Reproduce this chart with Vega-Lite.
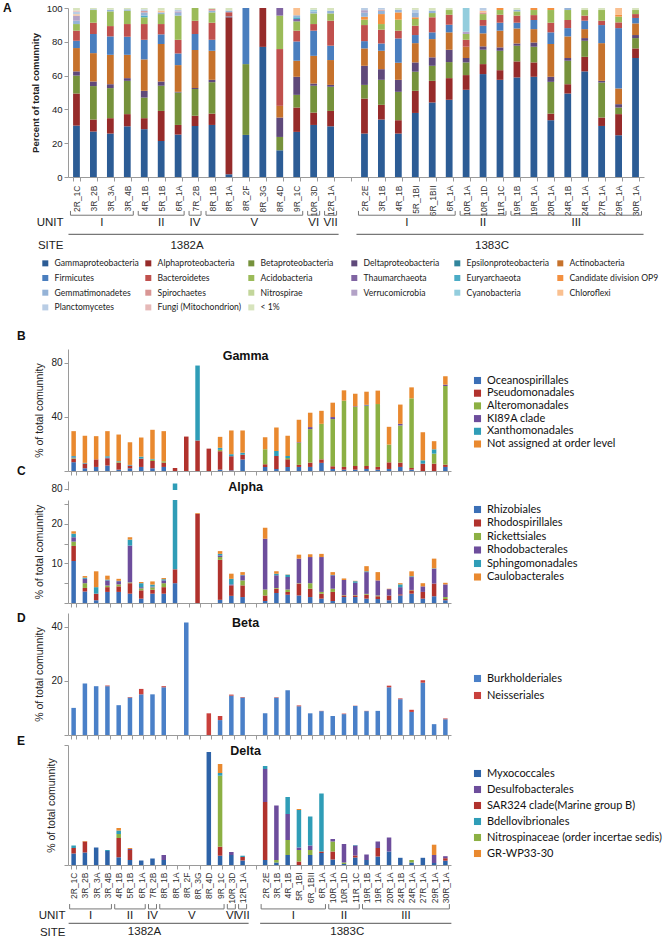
{
"$schema": "https://vega.github.io/schema/vega-lite/v6.json",
"padding": {"left": 3, "top": 2, "right": 0, "bottom": 0},
"datasets": {
"A": [
{"s":"a2R_1C","G":30.4,"Al":19,"Be":10.6,"De":2.5,"Ac":13.8,"Fi":4.3,"Ba":6,"Ad":3.9,"Ve":3,"Ge":2,"Ch":0.8,"Pl":1.5,"Fu":0.7,"L":1.5},
{"s":"a3R_2B","G":26.9,"Al":7.1,"Be":19.8,"De":2.7,"Ac":16.8,"Fi":11.3,"Ba":6.7,"Ad":7.5,"Ge":0.4,"L":0.8},
{"s":"a3R_3A","G":25.7,"Al":9.1,"Be":17.8,"De":2.3,"Ac":17.4,"Fi":10.9,"Ba":6.1,"Ad":8.7,"Ge":1,"L":1},
{"s":"a3R_4B","G":30,"Al":7.2,"Be":19.7,"De":1.6,"Ac":13.8,"Fi":10.7,"Ba":7.5,"Ad":7.9,"Ge":0.8,"L":0.8},
{"s":"a4R_1B","G":28.3,"Al":6.5,"Be":12.2,"De":4,"Ac":18.6,"Fi":11.6,"Ba":9.3,"Ad":4,"Eu":1,"Ge":1.9,"Sp":0.8,"Pl":1,"L":0.8},
{"s":"a5R_1B","G":21.3,"Al":17.8,"Be":14.9,"De":2.5,"Ac":22.2,"Fi":5.7,"Ba":6.1,"Ad":5.9,"Ge":1,"Ch":1,"L":1.6},
{"s":"a6R_1A","G":25.1,"Al":5.7,"Be":19.2,"De":0.4,"Ac":15.8,"Fi":6.9,"Ba":8.1,"Ad":14.3,"Ge":1.6,"Ve":0.9,"Pl":1,"L":1},
{"s":"a7R_2B","G":30.2,"Al":6,"Be":15.8,"De":0.6,"Ac":22.5,"Fi":9.5,"Ba":7.9,"Ad":7.5},
{"s":"a8R_1B","G":30.8,"Al":6.7,"Be":18.6,"De":1.4,"Ac":17.2,"Fi":6.5,"Ba":10.1,"Ad":6.1,"Ge":1,"Sp":1,"L":0.6},
{"s":"a8R_1A","G":1.6,"Al":92.9,"Fi":0.5,"Ba":2.5,"Ge":1,"L":1.5},
{"s":"a8R_2F","G":24.9,"Be":41.9,"Fi":33.2},
{"s":"a8R_3G","G":77,"Al":23},
{"s":"a8R_4D","G":15.8,"Be":7.9,"De":11.5,"Ac":6.9,"Ba":33.6,"Ad":19.8,"Th":4.5},
{"s":"a9R_1C","G":26.7,"Al":14.4,"Be":7.5,"De":10.7,"Ac":9.5,"Fi":11.4,"Ba":6.4,"Ad":5.5,"Th":1.4,"Eu":1,"Ge":1.2,"Ch":4.3},
{"s":"a10R_3D","G":30.8,"Al":7.3,"Be":15.9,"De":1.3,"Ac":16.4,"Fi":14.9,"Ba":3.9,"Ad":6.3,"Ge":1.2,"Cy":1,"L":1},
{"s":"a12R_1A","G":30,"Al":9.1,"Be":14.3,"De":1.1,"Ac":14.7,"Fi":8.5,"Ba":14.8,"Ad":4.3,"Ge":1.6,"L":1.6},
{"s":"c2R_2E","G":25.7,"Al":20.7,"Be":8.1,"De":11.3,"Ac":10.3,"Fi":4.3,"Ba":9.5,"Ad":3.2,"OP":1.7,"Ge":2.4,"Ve":1.5,"Pl":1.3},
{"s":"c3R_1B","G":34,"Al":8.7,"Be":14.8,"De":6.3,"Ac":10.9,"Fi":4.3,"Ba":8.2,"Ad":3.3,"OP":5.9,"Ge":2,"Sp":0.6,"Pl":1},
{"s":"c4R_1B","G":25.7,"Al":7.9,"Be":16.8,"De":7.1,"Ac":10.1,"Fi":14.4,"Ba":4.6,"Ad":6.5,"OP":4.3,"Ge":1.6,"L":1},
{"s":"c5R_1BI","G":37.9,"Al":13.1,"Be":11.3,"De":5.5,"Ac":11.4,"Fi":4.8,"Ba":5.5,"Ad":4,"OP":1,"Ge":2.9,"Pl":1.5,"L":1.1},
{"s":"c6R_1BII","G":44.1,"Al":12.8,"Be":8.9,"De":5,"Ac":10.8,"Fi":4,"Ba":8.9,"Ad":2.5,"Ge":1.5,"L":1.5},
{"s":"c6R_1A","G":45.7,"Al":12.8,"Be":9.5,"De":7.3,"Ac":10.3,"Fi":4.5,"Ba":5.9,"Ad":2.8,"L":1.2},
{"s":"c10R_1A","G":51.6,"Al":8.7,"Be":7.5,"De":2.6,"Ac":6.7,"Ba":4.1,"Ad":3.4,"Ve":1.4,"Cy":14},
{"s":"c10R_1D","G":60.9,"Al":5.9,"Be":8.5,"De":2,"Ac":7.7,"Fi":4.5,"Ba":3.4,"Ad":3.5,"Sp":1,"Ch":1,"Pl":1.6},
{"s":"c11R_1C","G":57.5,"Al":5.7,"Be":11.5,"De":2,"Ac":9.9,"Fi":4.7,"Ba":4.7,"Ad":2.8,"OP":1.2},
{"s":"c19R_1B","G":58.9,"Al":9.5,"Be":9.3,"De":1.3,"Ac":8.9,"Fi":3.4,"Ba":4.2,"Ad":2.5,"Ge":1,"L":1},
{"s":"c19R_1A","G":59.3,"Al":8.5,"Be":9.3,"De":2.5,"Ac":7.9,"Fi":5.4,"Ba":2.9,"Ad":3,"OP":1.2},
{"s":"c20R_1A","G":33.6,"Al":3.9,"Be":18.8,"De":3,"Ac":19.4,"Fi":6.9,"Ba":5.7,"Ad":7.5,"OP":1.2},
{"s":"c24R_1B","G":49.4,"Al":5.5,"Be":13.9,"De":1.6,"Ac":12.8,"Fi":4.9,"Ba":4.8,"Ad":5.9,"Ge":1.2},
{"s":"c24R_1A","G":62.5,"Al":8.6,"Be":9.5,"De":1.6,"Ac":5.3,"Fi":5,"Ba":3,"Ad":3.3,"L":1.2},
{"s":"c27R_1A","G":30.2,"Al":5,"Be":20.7,"De":1,"Ac":22.3,"Fi":10.7,"Ba":2.6,"Ad":6.3,"L":1.2},
{"s":"c29R_1A","G":24.7,"Al":12.5,"Be":3.9,"De":2,"Ac":9.3,"Fi":35.7,"Ba":3.4,"Ad":3.4,"OP":1,"Ch":4.1},
{"s":"c30R_1A","G":70.4,"Al":5.7,"Be":6.1,"De":1.8,"Ac":6.9,"Fi":3.2,"Ba":2.3,"Ad":2.4,"L":1.2}
],
"taxaA": [
{"k":"G","t":"Gammaproteobacteria","o":1},{"k":"Al","t":"Alphaproteobacteria","o":2},{"k":"Be","t":"Betaproteobacteria","o":3},{"k":"De","t":"Deltaproteobacteria","o":4},{"k":"Ep","t":"Epsilonproteobacteria","o":5},{"k":"Ac","t":"Actinobacteria","o":6},{"k":"Fi","t":"Firmicutes","o":7},{"k":"Ba","t":"Bacteroidetes","o":8},{"k":"Ad","t":"Acidobacteria","o":9},{"k":"Th","t":"Thaumarchaeota","o":10},{"k":"Eu","t":"Euryarchaeota","o":11},{"k":"OP","t":"Candidate division OP9","o":12},{"k":"Ge","t":"Gemmatimonadetes","o":13},{"k":"Sp","t":"Spirochaetes","o":14},{"k":"Ni","t":"Nitrospirae","o":15},{"k":"Ve","t":"Verrucomicrobia","o":16},{"k":"Cy","t":"Cyanobacteria","o":17},{"k":"Ch","t":"Chloroflexi","o":18},{"k":"Pl","t":"Planctomycetes","o":19},{"k":"Fu","t":"Fungi (Mitochondrion)","o":20},{"k":"L","t":"< 1%","o":21}
],
"B": [
{"s":"a2R_1C","O":6.5,"P":2.5,"A":0.5,"K":0.5,"X":1,"N":18.4},
{"s":"a3R_2B","O":2,"P":3.5,"X":0.5,"N":20},
{"s":"a3R_3A","O":3,"P":5.6,"N":17.1},
{"s":"a3R_4B","O":4,"P":5.4,"K":0.5,"X":1,"N":18.5},
{"s":"a4R_1B","O":1,"P":5.2,"A":0.5,"X":0.5,"N":19.7},
{"s":"a5R_1B","O":2,"P":2,"X":0.5,"N":16.7},
{"s":"a6R_1A","O":3,"P":6.1,"X":1.5,"N":14.1},
{"s":"a7R_2B","O":2,"P":5.4,"A":1,"X":0.5,"N":21.5},
{"s":"a8R_1B","O":3,"P":3.2,"A":1,"N":22.2},
{"s":"a8R_1A","P":2.2},
{"s":"a8R_2F","P":25.4},
{"s":"a8R_3G","P":22.5,"X":55.3},
{"s":"a8R_4D","P":16.5},
{"s":"a9R_1C","O":1,"P":13.6,"A":1,"X":1.5,"N":8.1},
{"s":"a10R_3D","O":0.5,"P":10.4,"X":1.5,"N":17.5},
{"s":"a12R_1A","O":8.5,"P":3.5,"X":1.5,"N":16.4},
{"s":"c2R_2E","O":3,"P":2,"A":11,"N":8.9},
{"s":"c3R_1B","O":1.5,"P":9.5,"X":3.8,"N":17.2},
{"s":"c4R_1B","O":3,"P":5.6,"A":1,"X":1.5,"N":14.9},
{"s":"c5R_1BI","O":3,"P":1.5,"A":16.2,"K":0.5,"N":16.6},
{"s":"c6R_1BII","O":3,"P":3.2,"A":24.7,"K":1.5,"N":10.6},
{"s":"c6R_1A","O":6,"P":2.6,"A":26.2,"N":9.6},
{"s":"c10R_1A","O":1.5,"P":2,"A":34.8,"K":1.5,"N":10.6},
{"s":"c10R_1D","O":1,"P":2,"A":48.9,"N":7.6},
{"s":"c11R_1C","O":1,"P":2.7,"A":43.5,"K":0.5,"N":9.3},
{"s":"c19R_1B","O":1.5,"P":2.2,"A":44.3,"K":0.5,"X":0.3,"N":9.7},
{"s":"c19R_1A","O":1,"P":2,"A":46.4,"N":9.9},
{"s":"c20R_1A","O":1.5,"P":4.9,"A":13.1,"N":13.1},
{"s":"c24R_1B","O":3,"P":3.2,"A":27.4,"K":1.2,"N":14.2},
{"s":"c24R_1A","O":1,"P":1.2,"A":51.4,"N":8.1},
{"s":"c27R_1A","P":5.4,"X":2.5,"N":20.7},
{"s":"c29R_1A","P":5.4,"A":7.4,"X":3.2,"N":6},
{"s":"c30R_1A","O":3,"P":1.7,"A":58,"K":1,"N":6.2}
],
"taxaB": [
{"k":"O","t":"Oceanospirillales","o":1},{"k":"P","t":"Pseudomonadales","o":2},{"k":"A","t":"Alteromonadales","o":3},{"k":"K","t":"KI89A clade","o":4},{"k":"X","t":"Xanthomonadales","o":5},{"k":"N","t":"Not assigned at order level","o":6}
],
"C": [
{"s":"a2R_1C","R":10.6,"S":3.8,"K":1.1,"B":1.1,"P":0.9,"C":0.6},
{"s":"a3R_2B","R":2.9,"S":0.9,"K":1.2,"B":1.1,"P":0.3,"C":0.4},
{"s":"a3R_3A","R":0.7,"S":1.65,"P":1.65,"C":4},
{"s":"a3R_4B","R":2.8,"S":1.2,"K":0.4,"B":1.3,"P":0.2,"C":1},
{"s":"a4R_1B","R":2.8,"S":1.4,"K":0.5,"B":0.8,"P":0.1,"C":0.5},
{"s":"a5R_1B","R":2.35,"S":2.65,"K":0.2,"B":9.3,"P":1.5,"C":0.6},
{"s":"a6R_1A","R":1.1,"S":2.1,"K":0.5,"B":0.3,"P":1,"C":0.3},
{"s":"a7R_2B","R":2.35,"S":1,"K":0.6,"B":0.2,"P":0.5,"C":0.8},
{"s":"a8R_1B","R":2.35,"S":1.65,"K":1,"B":0.7,"P":0.3,"C":0.3},
{"s":"a8R_1A","R":5,"S":3.5,"P":73.5},
{"s":"a8R_3G","S":22.5,"C":0.2},
{"s":"a9R_1C","R":0.8,"S":10.1,"K":0.7,"B":0.4,"P":0.4,"C":0.7},
{"s":"a10R_3D","R":1.8,"S":2.65,"B":0.25,"P":1.4,"C":1.3},
{"s":"a12R_1A","R":1.5,"S":2.95,"K":1.25,"B":1.3,"P":0.1,"C":0.7},
{"s":"c2R_2E","R":0.5,"S":1.4,"K":1.5,"B":12.8,"C":2.8},
{"s":"c3R_1B","R":2.5,"S":1.1,"K":0.2,"B":3.2,"P":0.4,"C":0.6},
{"s":"c4R_1B","R":2.1,"S":0.7,"K":0.6,"B":3.15,"P":0.55,"C":0.1},
{"s":"c5R_1BI","R":1.9,"S":3,"K":0.1,"B":6.2,"C":1},
{"s":"c6R_1BII","R":1.5,"S":2.1,"K":1.4,"B":6.6,"C":0.7},
{"s":"c6R_1A","R":1.1,"S":1.25,"K":0.45,"B":8.8,"C":0.8},
{"s":"c10R_1A","R":0.5,"S":2.3,"K":0.8,"B":3.4,"P":0.1,"C":0.7},
{"s":"c10R_1D","R":1.5,"S":0.4,"K":0.1,"B":3.8,"C":0.4},
{"s":"c11R_1C","R":1.5,"S":0.4,"K":0.1,"B":3.1,"P":0.4,"C":0.1},
{"s":"c19R_1B","R":1.1,"S":1,"K":0.2,"B":5.5,"P":0.2,"C":1.3},
{"s":"c19R_1A","R":1,"S":0.7,"K":0.2,"B":3.8,"C":2.1},
{"s":"c20R_1A","R":0.7,"S":1.2,"B":1.6,"C":0.1},
{"s":"c24R_1B","R":1.9,"S":0.3,"B":1.8,"P":0.7,"C":0.3},
{"s":"c24R_1A","R":2.35,"S":0.85,"K":0.1,"B":3.25,"P":0.2,"C":1.25},
{"s":"c27R_1A","R":1.1,"S":1.7,"B":1.4,"C":0.8},
{"s":"c29R_1A","R":1.7,"S":3.2,"B":3.75,"P":0.1,"C":2.45},
{"s":"c30R_1A","R":0.7,"S":0.3,"K":0.5,"B":3.2,"C":0.4}
],
"taxaC": [
{"k":"R","t":"Rhizobiales","o":1},{"k":"S","t":"Rhodospirillales","o":2},{"k":"K","t":"Rickettsiales","o":3},{"k":"B","t":"Rhodobacterales","o":4},{"k":"P","t":"Sphingomonadales","o":5},{"k":"C","t":"Caulobacterales","o":6}
],
"D": [
{"s":"a2R_1C","B":10},{"s":"a3R_2B","B":19},{"s":"a3R_3A","B":18},{"s":"a3R_4B","B":18,"N":0.25},{"s":"a4R_1B","B":11},{"s":"a5R_1B","B":13.8,"N":0.2},{"s":"a6R_1A","B":15,"N":2},{"s":"a7R_2B","B":15},{"s":"a8R_1B","B":17.6,"N":0.4},{"s":"a8R_2F","B":41.5},{"s":"a8R_4D","N":8},{"s":"a9R_1C","B":5.5,"N":1.5},{"s":"a10R_3D","B":14.5,"N":0.4},{"s":"a12R_1A","B":13.8,"N":0.2},
{"s":"c2R_2E","B":8},{"s":"c3R_1B","B":13.7,"N":0.2},{"s":"c4R_1B","B":16.5},{"s":"c5R_1BI","B":10.6,"N":0.3},{"s":"c6R_1BII","B":8},{"s":"c6R_1A","B":8.8,"N":0.1},{"s":"c10R_1A","B":7},{"s":"c10R_1D","B":7.7,"N":0.2},{"s":"c11R_1C","B":10.7,"N":0.1},{"s":"c19R_1B","B":8.8,"N":0.1},{"s":"c19R_1A","B":8.9},{"s":"c20R_1A","B":17.6,"N":0.6},{"s":"c24R_1B","B":13.2,"N":0.3},{"s":"c24R_1A","B":8.5,"N":0.8},{"s":"c27R_1A","B":19.3,"N":0.9},{"s":"c29R_1A","B":4},{"s":"c30R_1A","B":5.8,"N":0.3}
],
"taxaD": [{"k":"B","t":"Burkholderiales","o":1},{"k":"N","t":"Neisseriales","o":2}],
"E": [
{"s":"a2R_1C","M":1.15,"S":0.55,"B":0.25},
{"s":"a3R_2B","M":1.25,"S":1.1,"G":0.05},
{"s":"a3R_3A","M":1.75},
{"s":"a3R_4B","M":1.4,"B":0.1},
{"s":"a4R_1B","M":0.77,"S":1.93,"N":0.4,"B":0.35,"G":0.25},
{"s":"a5R_1B","M":0.5,"S":1,"D":0.1,"G":0.1},
{"s":"a6R_1A","M":0.45},
{"s":"a7R_2B","M":0.65},
{"s":"a8R_1B","M":0.5,"D":0.5},
{"s":"a8R_4D","M":11.3},
{"s":"a9R_1C","M":0.93,"S":0.9,"N":7.1,"B":0.27,"G":0.9},
{"s":"a10R_3D","M":1,"D":0.3},
{"s":"a12R_1A","M":0.45,"S":0.35,"B":0.13},
{"s":"c2R_2E","M":0.5,"S":5.8,"D":3.3,"B":0.3},
{"s":"c3R_1B","M":0.25,"N":0.25,"D":5.45},
{"s":"c4R_1B","M":1,"N":1.5,"D":2.6,"B":1.7},
{"s":"c5R_1BI","S":0.35,"N":1.15,"D":0.25,"B":3.75,"G":0.1},
{"s":"c6R_1BII","M":1,"N":0.5,"D":0.45,"B":2.9},
{"s":"c6R_1A","M":1.2,"S":0.15,"B":5.8},
{"s":"c10R_1A","M":0.55,"S":0.8,"N":1,"D":0.25},
{"s":"c10R_1D","M":0.1,"N":0.15,"D":1.85},
{"s":"c11R_1C","M":0.75,"S":0.2,"D":1,"B":0.05},
{"s":"c19R_1B","M":0.5,"D":0.55},
{"s":"c19R_1A","M":0.85,"S":0.85,"D":0.65},
{"s":"c20R_1A","M":1.35,"D":1.4},
{"s":"c24R_1B","M":0.72},
{"s":"c24R_1A","M":0.25,"N":0.25},
{"s":"c27R_1A","M":0.72},
{"s":"c29R_1A","M":0.2,"D":0.8,"G":1.03},
{"s":"c30R_1A","M":0.43,"S":0.25,"D":0.2}
],
"taxaE": [
{"k":"M","t":"Myxococcales","o":1},{"k":"S","t":"SAR324 clade(Marine group B)","o":2},{"k":"N","t":"Nitrospinaceae (order incertae sedis)","o":3},{"k":"D","t":"Desulfobacterales","o":4},{"k":"B","t":"Bdellovibrionales","o":5},{"k":"G","t":"GR-WP33-30","o":6}
],
"units": [
{"a":"a2R_1C","b":"a3R_4B","m":"a3R_3A","u":"I","e":1},
{"a":"a4R_1B","b":"a6R_1A","m":"a5R_1B","u":"II","e":0},
{"a":"a7R_2B","b":"a7R_2B","m":"a7R_2B","u":"IV","e":0},
{"a":"a8R_1B","b":"a9R_1C","m":"a8R_3G","u":"V","e":1},
{"a":"a10R_3D","b":"a10R_3D","m":"a10R_3D","u":"VI","e":0},
{"a":"a12R_1A","b":"a12R_1A","m":"a12R_1A","u":"VII","e":0},
{"a":"c2R_2E","b":"c6R_1A","m":"c5R_1BI","u":"I","e":1},
{"a":"c10R_1A","b":"c11R_1C","m":"c10R_1D","u":"II","e":0},
{"a":"c19R_1B","b":"c30R_1A","m":"c24R_1A","u":"III","e":1}
],
"sites": [
{"a":"a2R_1C","b":"a12R_1A","m":"a7R_2B","u":"1382A"},
{"a":"c2R_2E","b":"c30R_1A","m":"c11R_1C","u":"1383C"}
]
},
"vconcat": [
{
"vconcat": [
{
"width": 576, "height": 169,
"title": {"text": "A", "anchor": "start", "frame": "group", "dx": -65, "offset": -12, "fontSize": 12, "fontWeight": "bold"},
"data": {"name": "A"},
"transform": [
{"fold": ["G","Al","Be","De","Ep","Ac","Fi","Ba","Ad","Th","Eu","OP","Ge","Sp","Ni","Ve","Cy","Ch","Pl","Fu","L"], "as": ["k","v"]},
{"filter": "isValid(datum.v)"},
{"lookup": "k", "from": {"data": {"name": "taxaA"}, "key": "k", "fields": ["t","o"]}}
],
"mark": {"type": "bar"},
"encoding": {
"x": {"field": "s", "type": "nominal", "scale": {"domain": ["a2R_1C","a3R_2B","a3R_3A","a3R_4B","a4R_1B","a5R_1B","a6R_1A","a7R_2B","a8R_1B","a8R_1A","a8R_2F","a8R_3G","a8R_4D","a9R_1C","a10R_3D","a12R_1A","g","c2R_2E","c3R_1B","c4R_1B","c5R_1BI","c6R_1BII","c6R_1A","c10R_1A","c10R_1D","c11R_1C","c19R_1B","c19R_1A","c20R_1A","c24R_1B","c24R_1A","c27R_1A","c29R_1A","c30R_1A"], "paddingInner": 0.6, "paddingOuter": 0.3},
 "axis": {"title": null, "labelAngle": -90, "labelExpr": "slice(datum.label, 1)", "labelFontSize": 8.5, "labelOverlap": false, "tickBand": "extent", "tickSize": 4, "labelPadding": 4, "labelColor": "#333"}},
"y": {"field": "v", "type": "quantitative", "stack": "zero", "scale": {"domain": [0, 100]},
 "axis": {"title": "Percent of total comunnity", "titleFontWeight": "bold", "titleFontSize": 9.5, "values": [0,20,40,60,80,100], "labelFontSize": 9.5, "tickSize": 4, "titlePadding": 6}},
"color": {"field": "t", "type": "nominal",
 "scale": {"domain": ["Gammaproteobacteria","Alphaproteobacteria","Betaproteobacteria","Deltaproteobacteria","Epsilonproteobacteria","Actinobacteria","Firmicutes","Bacteroidetes","Acidobacteria","Thaumarchaeota","Euryarchaeota","Candidate division OP9","Gemmatimonadetes","Spirochaetes","Nitrospirae","Verrucomicrobia","Cyanobacteria","Chloroflexi","Planctomycetes","Fungi (Mitochondrion)","< 1%"],
  "range": ["#2C5C95","#962B2A","#76923C","#5F497A","#31859C","#C6722C","#4A7EBE","#C0504D","#9BBB59","#8064A2","#4BACC6","#F39040","#95B3D7","#D99694","#C3D69B","#B3A2C7","#93CDDD","#FAC090","#B9CDE5","#E6B9B8","#D7E4BD"]},
 "legend": {"orient": "none", "legendX": -27, "legendY": 251, "columns": 6, "direction": "horizontal", "gridAlign": "all", "title": null, "symbolType": "square", "symbolSize": 36, "symbolStrokeWidth": 0, "labelFont": "Lato", "labelFontSize": 8.6, "labelOffset": 5, "rowPadding": 5.7, "columnPadding": 0, "labelColor": "#222", "labelLimit": 200}},
"order": {"field": "o", "type": "quantitative"}
}
},
{
"width": 576, "height": 43,
"layer": [
{"data": {"name": "units"}, "mark": {"type": "rule", "xOffset": -6, "x2Offset": 6, "color": "#777"},
 "encoding": {"x": {"field": "a", "type": "nominal", "scale": {"domain": ["a2R_1C","a3R_2B","a3R_3A","a3R_4B","a4R_1B","a5R_1B","a6R_1A","a7R_2B","a8R_1B","a8R_1A","a8R_2F","a8R_3G","a8R_4D","a9R_1C","a10R_3D","a12R_1A","g","c2R_2E","c3R_1B","c4R_1B","c5R_1BI","c6R_1BII","c6R_1A","c10R_1A","c10R_1D","c11R_1C","c19R_1B","c19R_1A","c20R_1A","c24R_1B","c24R_1A","c27R_1A","c29R_1A","c30R_1A"], "paddingInner": 0.6, "paddingOuter": 0.3}, "axis": null},
  "x2": {"field": "b"},
  "y": {"datum": 6, "type": "quantitative", "scale": {"domain": [0, 43], "reverse": true}, "axis": {"values": [14, 38], "labelExpr": "datum.value < 20 ? 'UNIT' : 'SITE'", "domain": false, "ticks": false, "title": null, "labelFontSize": 11.5, "labelPadding": 5, "labelColor": "#222"}}}},
{"data": {"name": "units"}, "mark": {"type": "rule", "xOffset": -6, "color": "#777"},
 "encoding": {"x": {"field": "a", "type": "nominal"}, "y": {"datum": 1.5, "type": "quantitative"}, "y2": {"datum": 6}}},
{"data": {"name": "units"}, "mark": {"type": "rule", "xOffset": 6, "color": "#777"},
 "encoding": {"x": {"field": "b", "type": "nominal"}, "y": {"datum": 1.5, "type": "quantitative"}, "y2": {"datum": 6}}},
{"data": {"name": "units"}, "transform": [{"filter": "datum.e == 0"}], "mark": {"type": "text", "fontSize": 11.5, "color": "#222"},
 "encoding": {"x": {"field": "m", "type": "nominal"}, "y": {"datum": 14, "type": "quantitative"}, "text": {"field": "u"}}},
{"data": {"name": "units"}, "transform": [{"filter": "datum.e == 1"}], "mark": {"type": "text", "fontSize": 11.5, "color": "#222", "xOffset": -8.47},
 "encoding": {"x": {"field": "m", "type": "nominal"}, "y": {"datum": 14, "type": "quantitative"}, "text": {"field": "u"}}},
{"data": {"name": "sites"}, "mark": {"type": "rule", "xOffset": -8, "x2Offset": 8, "color": "#777", "strokeWidth": 1.2},
 "encoding": {"x": {"field": "a", "type": "nominal"}, "x2": {"field": "b"}, "y": {"datum": 26, "type": "quantitative"}}},
{"data": {"name": "sites"}, "mark": {"type": "text", "fontSize": 11.5, "color": "#222", "xOffset": -8},
 "encoding": {"x": {"field": "m", "type": "nominal"}, "y": {"datum": 38, "type": "quantitative"}, "text": {"field": "u"}}}
]
}
],
"spacing": 32.5, "bounds": "flush", "resolve": {"scale": {"color": "independent"}}
},
{
"vconcat": [
{
"width": 383, "height": 122,
"title": {"text": "B", "anchor": "start", "frame": "group", "dx": -51, "offset": 6, "fontSize": 12, "fontWeight": "bold"},
"layer": [
{"data": {"name": "B"},
"transform": [{"fold": ["O","P","A","K","X","N"], "as": ["k","v"]}, {"filter": "isValid(datum.v)"}, {"lookup": "k", "from": {"data": {"name": "taxaB"}, "key": "k", "fields": ["t","o"]}}],
"mark": {"type": "bar"},
"encoding": {
"x": {"field": "s", "type": "nominal", "scale": {"domain": ["a2R_1C","a3R_2B","a3R_3A","a3R_4B","a4R_1B","a5R_1B","a6R_1A","a7R_2B","a8R_1B","a8R_1A","a8R_2F","a8R_3G","a8R_4D","a9R_1C","a10R_3D","a12R_1A","g","c2R_2E","c3R_1B","c4R_1B","c5R_1BI","c6R_1BII","c6R_1A","c10R_1A","c10R_1D","c11R_1C","c19R_1B","c19R_1A","c20R_1A","c24R_1B","c24R_1A","c27R_1A","c29R_1A","c30R_1A"], "paddingInner": 0.6, "paddingOuter": 0.3},
 "axis": {"title": null, "labels": false, "tickBand": "extent", "tickSize": 4}},
"y": {"field": "v", "type": "quantitative", "stack": "zero", "scale": {"domain": [0, 90]},
 "axis": {"title": "% of total comunnity", "titleFontWeight": "normal", "titleFontSize": 10.5, "values": [0,10,20,30,40,50,60,70,80], "labelExpr": "datum.value > 0 && datum.value % 20 == 0 ? datum.label : ''", "labelFontSize": 10, "tickSize": 4, "titlePadding": 6}},
"color": {"field": "t", "type": "nominal",
 "scale": {"domain": ["Oceanospirillales","Pseudomonadales","Alteromonadales","KI89A clade","Xanthomonadales","Not assigned at order level"], "range": ["#3B6FB6","#B1322D","#8CB043","#6D4D9C","#2F9DB7","#E9892F"]},
 "legend": {"orient": "none", "legendX": 404, "legendY": 26, "title": null, "symbolType": "square", "symbolSize": 50, "symbolStrokeWidth": 0, "labelFont": "Lato", "labelFontSize": 11, "labelOffset": 4, "rowPadding": 0.7, "labelColor": "#111", "labelLimit": 300}},
"order": {"field": "o", "type": "quantitative"}
}},
{"data": {"values": [{"label": "Gamma"}]}, "mark": {"type": "text", "fontSize": 12.5, "fontWeight": "bold", "dx": 3, "color": "#111"},
 "encoding": {"x": {"datum": "a12R_1A"}, "y": {"datum": 85}, "text": {"field": "label"}}}
]
},
{
"width": 383, "height": 9,
"title": {"text": "C", "anchor": "start", "frame": "group", "dx": -51, "offset": 3, "fontSize": 12, "fontWeight": "bold"},
"layer": [
{"data": {"name": "C"},
"transform": [{"fold": ["R","S","K","B","P","C"], "as": ["k","v"]}, {"filter": "isValid(datum.v)"}, {"lookup": "k", "from": {"data": {"name": "taxaC"}, "key": "k", "fields": ["t","o"]}}],
"mark": {"type": "bar", "clip": true},
"encoding": {
"x": {"field": "s", "type": "nominal", "scale": {"domain": ["a2R_1C","a3R_2B","a3R_3A","a3R_4B","a4R_1B","a5R_1B","a6R_1A","a7R_2B","a8R_1B","a8R_1A","a8R_2F","a8R_3G","a8R_4D","a9R_1C","a10R_3D","a12R_1A","g","c2R_2E","c3R_1B","c4R_1B","c5R_1BI","c6R_1BII","c6R_1A","c10R_1A","c10R_1D","c11R_1C","c19R_1B","c19R_1A","c20R_1A","c24R_1B","c24R_1A","c27R_1A","c29R_1A","c30R_1A"], "paddingInner": 0.6, "paddingOuter": 0.3}, "axis": null},
"y": {"field": "v", "type": "quantitative", "stack": "zero", "scale": {"domain": [79.5, 83]},
 "axis": {"title": null, "values": [80], "labelFontSize": 10, "tickSize": 4}},
"color": {"field": "t", "type": "nominal",
 "scale": {"domain": ["Rhizobiales","Rhodospirillales","Rickettsiales","Rhodobacterales","Sphingomonadales","Caulobacterales"], "range": ["#3B6FB6","#B1322D","#8CB043","#6D4D9C","#2F9DB7","#E9892F"]},
 "legend": null},
"order": {"field": "o", "type": "quantitative"}
}},
{"data": {"values": [{"label": "Alpha"}]}, "mark": {"type": "text", "fontSize": 12.5, "fontWeight": "bold", "dx": 3, "color": "#111"},
 "encoding": {"x": {"datum": "a12R_1A"}, "y": {"datum": 80.6}, "text": {"field": "label"}}}
]
},
{
"width": 383, "height": 103,
"data": {"name": "C"},
"transform": [{"fold": ["R","S","K","B","P","C"], "as": ["k","v"]}, {"filter": "isValid(datum.v)"}, {"lookup": "k", "from": {"data": {"name": "taxaC"}, "key": "k", "fields": ["t","o"]}}],
"mark": {"type": "bar", "clip": true},
"encoding": {
"x": {"field": "s", "type": "nominal", "scale": {"domain": ["a2R_1C","a3R_2B","a3R_3A","a3R_4B","a4R_1B","a5R_1B","a6R_1A","a7R_2B","a8R_1B","a8R_1A","a8R_2F","a8R_3G","a8R_4D","a9R_1C","a10R_3D","a12R_1A","g","c2R_2E","c3R_1B","c4R_1B","c5R_1BI","c6R_1BII","c6R_1A","c10R_1A","c10R_1D","c11R_1C","c19R_1B","c19R_1A","c20R_1A","c24R_1B","c24R_1A","c27R_1A","c29R_1A","c30R_1A"], "paddingInner": 0.6, "paddingOuter": 0.3},
 "axis": {"title": null, "labels": false, "tickBand": "extent", "tickSize": 4}},
"y": {"field": "v", "type": "quantitative", "stack": "zero", "scale": {"domain": [0, 26]},
 "axis": {"title": "% of total comunnity", "titleFontWeight": "normal", "titleFontSize": 10.5, "values": [0,5,10,15,20,25], "labelExpr": "datum.value == 10 || datum.value == 20 ? datum.label : ''", "labelFontSize": 10, "tickSize": 4, "titlePadding": 6}},
"color": {"field": "t", "type": "nominal",
 "scale": {"domain": ["Rhizobiales","Rhodospirillales","Rickettsiales","Rhodobacterales","Sphingomonadales","Caulobacterales"], "range": ["#3B6FB6","#B1322D","#8CB043","#6D4D9C","#2F9DB7","#E9892F"]},
 "legend": {"orient": "none", "legendX": 404, "legendY": 4, "title": null, "symbolType": "square", "symbolSize": 50, "symbolStrokeWidth": 0, "labelFont": "Lato", "labelFontSize": 11, "labelOffset": 4, "rowPadding": 1.5, "labelColor": "#111", "labelLimit": 300}},
"order": {"field": "o", "type": "quantitative"}
}
},
{
"width": 383, "height": 122,
"title": {"text": "D", "anchor": "start", "frame": "group", "dx": -51, "offset": -12, "fontSize": 12, "fontWeight": "bold"},
"layer": [
{"data": {"name": "D"},
"transform": [{"fold": ["B","N"], "as": ["k","v"]}, {"filter": "isValid(datum.v)"}, {"lookup": "k", "from": {"data": {"name": "taxaD"}, "key": "k", "fields": ["t","o"]}}],
"mark": {"type": "bar"},
"encoding": {
"x": {"field": "s", "type": "nominal", "scale": {"domain": ["a2R_1C","a3R_2B","a3R_3A","a3R_4B","a4R_1B","a5R_1B","a6R_1A","a7R_2B","a8R_1B","a8R_1A","a8R_2F","a8R_3G","a8R_4D","a9R_1C","a10R_3D","a12R_1A","g","c2R_2E","c3R_1B","c4R_1B","c5R_1BI","c6R_1BII","c6R_1A","c10R_1A","c10R_1D","c11R_1C","c19R_1B","c19R_1A","c20R_1A","c24R_1B","c24R_1A","c27R_1A","c29R_1A","c30R_1A"], "paddingInner": 0.6, "paddingOuter": 0.3},
 "axis": {"title": null, "labels": false, "tickBand": "extent", "tickSize": 4}},
"y": {"field": "v", "type": "quantitative", "stack": "zero", "scale": {"domain": [0, 45]},
 "axis": {"title": "% of total comunnity", "titleFontWeight": "normal", "titleFontSize": 10.5, "values": [0,5,10,15,20,25,30,35,40], "labelExpr": "datum.value > 0 && datum.value % 10 == 0 ? datum.label : ''", "labelFontSize": 10, "tickSize": 4, "titlePadding": 6}},
"color": {"field": "t", "type": "nominal",
 "scale": {"domain": ["Burkholderiales","Neisseriales"], "range": ["#4A80C8","#C9403C"]},
 "legend": {"orient": "none", "legendX": 404, "legendY": 60, "title": null, "symbolType": "square", "symbolSize": 50, "symbolStrokeWidth": 0, "labelFont": "Lato", "labelFontSize": 11, "labelOffset": 4, "rowPadding": 5, "labelColor": "#111", "labelLimit": 300}},
"order": {"field": "o", "type": "quantitative"}
}},
{"data": {"values": [{"label": "Beta"}]}, "mark": {"type": "text", "fontSize": 12.5, "fontWeight": "bold", "dx": 3, "color": "#111"},
 "encoding": {"x": {"datum": "a12R_1A"}, "y": {"datum": 41.2}, "text": {"field": "label"}}}
]
},
{
"width": 383, "height": 120,
"title": {"text": "E", "anchor": "start", "frame": "group", "dx": -51, "offset": -8, "fontSize": 12, "fontWeight": "bold"},
"layer": [
{"data": {"name": "E"},
"transform": [{"fold": ["M","S","N","D","B","G"], "as": ["k","v"]}, {"filter": "isValid(datum.v)"}, {"lookup": "k", "from": {"data": {"name": "taxaE"}, "key": "k", "fields": ["t","o"]}}],
"mark": {"type": "bar"},
"encoding": {
"x": {"field": "s", "type": "nominal", "scale": {"domain": ["a2R_1C","a3R_2B","a3R_3A","a3R_4B","a4R_1B","a5R_1B","a6R_1A","a7R_2B","a8R_1B","a8R_1A","a8R_2F","a8R_3G","a8R_4D","a9R_1C","a10R_3D","a12R_1A","g","c2R_2E","c3R_1B","c4R_1B","c5R_1BI","c6R_1BII","c6R_1A","c10R_1A","c10R_1D","c11R_1C","c19R_1B","c19R_1A","c20R_1A","c24R_1B","c24R_1A","c27R_1A","c29R_1A","c30R_1A"], "paddingInner": 0.6, "paddingOuter": 0.3},
 "axis": {"title": null, "labelAngle": -90, "labelExpr": "slice(datum.label, 1)", "labelFontSize": 8.5, "labelOverlap": false, "tickBand": "extent", "tickSize": 4, "labelPadding": 3, "labelColor": "#333"}},
"y": {"field": "v", "type": "quantitative", "stack": "zero", "scale": {"domain": [0, 12]},
 "axis": {"title": "% of total comunnity", "titleFontWeight": "normal", "titleFontSize": 10.5, "values": [0,2,4,6,8,10,12], "labelExpr": "datum.value % 4 == 2 ? datum.label : ''", "labelFontSize": 10, "tickSize": 4, "titlePadding": 6}},
"color": {"field": "t", "type": "nominal",
 "scale": {"domain": ["Myxococcales","Desulfobacterales","SAR324 clade(Marine group B)","Bdellovibrionales","Nitrospinaceae (order incertae sedis)","GR-WP33-30"], "range": ["#2E63A8","#6D4D9C","#B1322D","#2F9DB7","#8CB043","#E9892F"]},
 "legend": {"orient": "none", "legendX": 404, "legendY": 23, "title": null, "symbolType": "square", "symbolSize": 50, "symbolStrokeWidth": 0, "labelFont": "Lato", "labelFontSize": 11, "labelOffset": 4, "rowPadding": 4, "labelColor": "#111", "labelLimit": 300}},
"order": {"field": "o", "type": "quantitative"}
}},
{"data": {"values": [{"label": "Delta"}]}, "mark": {"type": "text", "fontSize": 12.5, "fontWeight": "bold", "dx": 3, "color": "#111"},
 "encoding": {"x": {"datum": "a12R_1A"}, "y": {"datum": 11.4}, "text": {"field": "label"}}}
]
},
{
"width": 383, "height": 63,
"layer": [
{"data": {"name": "units"}, "mark": {"type": "rule", "xOffset": -4, "x2Offset": 4, "color": "#777"},
 "encoding": {"x": {"field": "a", "type": "nominal", "scale": {"domain": ["a2R_1C","a3R_2B","a3R_3A","a3R_4B","a4R_1B","a5R_1B","a6R_1A","a7R_2B","a8R_1B","a8R_1A","a8R_2F","a8R_3G","a8R_4D","a9R_1C","a10R_3D","a12R_1A","g","c2R_2E","c3R_1B","c4R_1B","c5R_1BI","c6R_1BII","c6R_1A","c10R_1A","c10R_1D","c11R_1C","c19R_1B","c19R_1A","c20R_1A","c24R_1B","c24R_1A","c27R_1A","c29R_1A","c30R_1A"], "paddingInner": 0.6, "paddingOuter": 0.3}, "axis": null},
  "x2": {"field": "b"},
  "y": {"datum": 35, "type": "quantitative", "scale": {"domain": [0, 63], "reverse": true}, "axis": {"values": [42, 59], "labelExpr": "datum.value < 50 ? 'UNIT' : 'SITE'", "domain": false, "ticks": false, "title": null, "labelFontSize": 11.5, "labelPadding": 3, "labelColor": "#222"}}}},
{"data": {"name": "units"}, "mark": {"type": "rule", "xOffset": -4, "color": "#777"},
 "encoding": {"x": {"field": "a", "type": "nominal"}, "y": {"datum": 30, "type": "quantitative"}, "y2": {"datum": 35}}},
{"data": {"name": "units"}, "mark": {"type": "rule", "xOffset": 4, "color": "#777"},
 "encoding": {"x": {"field": "b", "type": "nominal"}, "y": {"datum": 30, "type": "quantitative"}, "y2": {"datum": 35}}},
{"data": {"name": "units"}, "transform": [{"filter": "datum.e == 0"}], "mark": {"type": "text", "fontSize": 11.5, "color": "#222"},
 "encoding": {"x": {"field": "m", "type": "nominal"}, "y": {"datum": 42, "type": "quantitative"}, "text": {"field": "u"}}},
{"data": {"name": "units"}, "transform": [{"filter": "datum.e == 1"}], "mark": {"type": "text", "fontSize": 11.5, "color": "#222", "xOffset": -5.63},
 "encoding": {"x": {"field": "m", "type": "nominal"}, "y": {"datum": 42, "type": "quantitative"}, "text": {"field": "u"}}},
{"data": {"name": "sites"}, "mark": {"type": "rule", "xOffset": -5, "x2Offset": 6, "color": "#777", "strokeWidth": 1.2},
 "encoding": {"x": {"field": "a", "type": "nominal"}, "x2": {"field": "b"}, "y": {"datum": 50, "type": "quantitative"}}},
{"data": {"name": "sites"}, "mark": {"type": "text", "fontSize": 11.5, "color": "#222", "xOffset": -8},
 "encoding": {"x": {"field": "m", "type": "nominal"}, "y": {"datum": 59, "type": "quantitative"}, "text": {"field": "u"}}}
]
}
],
"spacing": 10, "bounds": "flush", "resolve": {"scale": {"color": "independent"}}
}
],
"spacing": 18,
"bounds": "full",
"resolve": {"scale": {"color": "independent"}},
"config": {
"font": "Liberation Sans",
"view": {"stroke": null},
"axis": {"grid": false, "domainColor": "#9a9a9a", "tickColor": "#9a9a9a", "labelColor": "#222", "titleColor": "#222", "labelFont": "Liberation Sans", "titleFont": "Liberation Sans"},
"title": {"font": "Liberation Sans", "color": "#111"},
"text": {"font": "Liberation Sans"}
}
}
